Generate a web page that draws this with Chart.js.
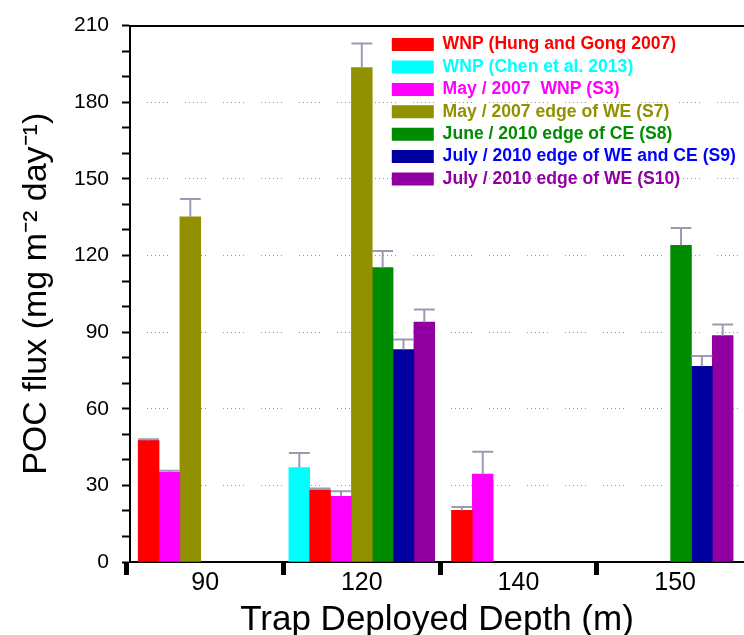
<!DOCTYPE html>
<html>
<head>
<meta charset="utf-8">
<title>POC flux vs trap depth</title>
<style>
  html, body { margin: 0; padding: 0; background: #fff; overflow: hidden; }
</style>
</head>
<body>
<canvas id="myChart" width="744" height="635"></canvas>

<script src="https://cdn.jsdelivr.net/npm/chart.js@4"></script>
<script>
    // trap deployed depth (m) - one category each
    const depths = ['90', '120', '140', '150'];

    const seriesNames = [
        'WNP (Hung and Gong 2007)',
        'WNP (Chen et al. 2013)',
        'May / 2007  WNP (S3)',
        'May / 2007 edge of WE (S7)',
        'June / 2010 edge of CE (S8)',
        'July / 2010 edge of WE and CE (S9)',
        'July / 2010 edge of WE (S10)'
    ];

    // POC flux (mg m-2 day-1) per depth, null = no trap there
    const hungGong = [47.6, 28.3, 20.2, null];
    const chen     = [null, 37.0, null, null];
    const s3       = [35.1, 25.7, 34.4, null];
    const s7       = [135.1, 193.6, null, null];
    const s8       = [null, 115.3, null, 124.0];
    const s9       = [null, 83.2, null, 76.6];
    const s10      = [null, 93.9, null, 88.6];

    // upper error bars
    const hungGongErr = [0.5, 0.5, 1.3, null];
    const chenErr     = [null, 5.7, null, null];
    const s3Err       = [0.6, 2.0, 8.8, null];
    const s7Err       = [7.0, 9.4, null, null];
    const s8Err       = [null, 6.5, null, 6.8];
    const s9Err       = [null, 3.9, null, 4.0];
    const s10Err      = [null, 5.0, null, 4.4];

    // y axis ticks: labels every 30, minor marks every 10
    const yMax = 210;
    const yLabelStep = 30;
    const yMinorStep = 10;

    const values = [hungGong, chen, s3, s7, s8, s9, s10];
    const errors = [hungGongErr, chenErr, s3Err, s7Err, s8Err, s9Err, s10Err];

    const barColors  = ['#ff0000', '#00ffff', '#ff00ff', '#919100', '#008c00', '#0000a0', '#9000a0'];
    const textColors = ['#ff0000', '#00ffff', '#ff00ff', '#919100', '#008c00', '#0000ff', '#9000a0'];

    // layout: slot of each series inside a group (Chen comes first in the plot),
    // width of one slot in category units, and the group shift used in the figure
    const slotOf = [1, 0, 2, 3, 4, 5, 6];
    const slot = 0.133;
    const groupShift = [-0.095, 0, -0.095, -0.095];

    const datasets = seriesNames.map((name, s) => ({
        label: name,
        backgroundColor: barColors[s],
        borderWidth: 0,
        data: depths.map((d, c) => values[s][c] == null ? null : {
            x: c + (slotOf[s] - 3) * slot + groupShift[c],
            y: values[s][c],
            err: errors[s][c]
        }).filter(p => p)
    }));

    // error bars drawn on top of the bars, using the y scale
    const errorBars = {
        id: 'errorBars',
        afterDatasetsDraw(chart) {
            const ctx = chart.ctx;
            const yScale = chart.scales.y;
            ctx.save();
            ctx.strokeStyle = '#9a9ab6';
            ctx.lineWidth = 2;
            chart.data.datasets.forEach((ds, i) => {
                const meta = chart.getDatasetMeta(i);
                meta.data.forEach((bar, j) => {
                    const pt = ds.data[j];
                    if (pt.err == null) return;
                    const top = yScale.getPixelForValue(pt.y + pt.err);
                    const half = bar.width / 2;
                    ctx.beginPath();
                    ctx.moveTo(bar.x, bar.y);
                    ctx.lineTo(bar.x, top);
                    ctx.moveTo(bar.x - half, top);
                    ctx.lineTo(bar.x + half, top);
                    ctx.stroke();
                });
            });
            ctx.restore();
        }
    };

    // put the legend inside the plot, upper right
    const legendSpot = {
        id: 'legendSpot',
        afterLayout(chart) {
            const lg = chart.legend;
            lg.left = 387;
            lg.top = 31;
            lg.right = lg.left + 360;
            lg.bottom = lg.top + 300;
        }
    };

    const config = {
        type: 'bar',
        data: { datasets: datasets },
        options: {
            responsive: false,
            animation: false,
            layout: { padding: { top: 21, left: 0, right: 0, bottom: 0 } },
            datasets: {
                bar: { grouped: false, categoryPercentage: 1, barPercentage: 1 }
            },
            plugins: {
                tooltip: { enabled: false },
                legend: {
                    position: 'chartArea',
                    align: 'start',
                    labels: {
                        boxWidth: 42,
                        boxHeight: 13,
                        padding: 4.8,
                        font: { family: 'Liberation Sans', size: 17.6, weight: 'bold' },
                        generateLabels(chart) {
                            const items = Chart.defaults.plugins.legend.labels.generateLabels(chart);
                            items.forEach((it, i) => { it.fontColor = textColors[i]; it.lineWidth = 0; });
                            return items;
                        }
                    }
                }
            },
            scales: {
                x: {
                    type: 'linear',
                    min: -0.48,
                    max: 3.44,
                    offset: false,
                    afterBuildTicks: axis => {
                        const t = [];
                        for (let v = -0.5; v <= 3; v += 0.5) t.push({ value: v });
                        axis.ticks = t;
                    },
                    afterFit: axis => { axis.height = 73; },
                    grid: {
                        offset: false,
                        drawOnChartArea: false,
                        tickLength: 13,
                        tickWidth: 5,
                        tickColor: ctx => Number.isInteger(ctx.tick.value) ? 'rgba(0,0,0,0)' : '#000'
                    },
                    border: { color: '#000', width: 2 },
                    ticks: {
                        autoSkip: false,
                        maxRotation: 0,
                        padding: -7,
                        color: '#000',
                        font: { family: 'Liberation Sans', size: 25 },
                        callback: v => Number.isInteger(v) ? depths[v] : ''
                    },
                    title: {
                        display: true,
                        text: 'Trap Deployed Depth (m)',
                        color: '#000',
                        font: { family: 'Liberation Sans', size: 35, lineHeight: 1 },
                        padding: { top: 0, bottom: -3 }
                    }
                },
                xTop: {
                    type: 'linear',
                    position: 'top',
                    min: 0,
                    max: 1,
                    afterFit: axis => { axis.height = 0; },
                    grid: { display: false, drawTicks: false },
                    ticks: { display: false },
                    border: { display: true, color: '#000', width: 2 }
                },
                y: {
                    min: 0,
                    max: yMax,
                    afterFit: axis => { axis.width = 130; },
                    grid: {
                        tickLength: 8,
                        tickWidth: 2,
                        tickColor: '#000',
                        lineWidth: 1,
                        color: ctx => {
                            const v = ctx.tick.value;
                            return (v % yLabelStep === 0 && v > 0 && v < yMax) ? '#8e92c4' : 'rgba(0,0,0,0)';
                        }
                    },
                    border: { color: '#000', width: 2, dash: [1, 3, 1, 3, 1, 3, 1, 3, 1, 3, 1, 17], dashOffset: -16 },
                    ticks: {
                        stepSize: yMinorStep,
                        autoSkip: false,
                        padding: 13,
                        color: '#000',
                        font: { family: 'Liberation Sans', size: 21 },
                        callback: v => v % yLabelStep === 0 ? v : ''
                    },
                    title: {
                        display: true,
                        text: 'POC flux (mg m\u207B\u00B2 day\u207B\u00B9)',
                        color: '#000',
                        font: { family: 'Liberation Sans', size: 34, lineHeight: 1 },
                        padding: { top: 20, bottom: 0 }
                    }
                }
            }
        },
        plugins: [errorBars, legendSpot]
    };

    const myChart = new Chart(document.getElementById('myChart'), config);
</script>
</body>
</html>
